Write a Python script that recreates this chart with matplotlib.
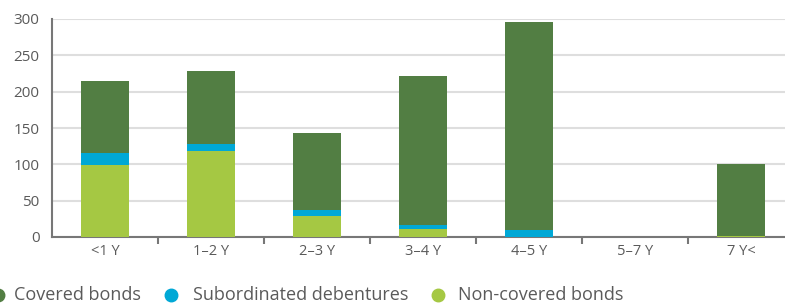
import matplotlib
matplotlib.use("Agg")
import matplotlib.pyplot as plt
from matplotlib.lines import Line2D
import numpy as np

plt.rcParams['font.family'] = ['Open Sans', 'DejaVu Sans']

categories = ['<1 Y', '1\u20132 Y', '2\u20133 Y', '3\u20134 Y', '4\u20135 Y', '5\u20137 Y', '7 Y<']
non_covered = [99, 118, 29, 11, 0, 0, 1]
subordinated = [16, 10, 8, 6, 10, 0, 0]
covered = [100, 100, 106, 204, 286, 0, 99]
legend_labels = ['Covered bonds', 'Subordinated debentures', 'Non-covered bonds']

c_cov = '#527e43'
c_sub = '#00a8d6'
c_non = '#a5c843'
txt = '#5a5a5a'

W, H = 785, 303
fig = plt.figure(figsize=(W/100, H/100), dpi=100)
ax = fig.add_axes([52/W, 66/H, 733/W, 218/H])

x = np.arange(len(categories))
w = 0.46
nc = np.array(non_covered)
sb = np.array(subordinated)
cv = np.array(covered)
ax.bar(x, nc, w, color=c_non, zorder=3)
ax.bar(x, sb, w, bottom=nc, color=c_sub, zorder=3)
ax.bar(x, cv, w, bottom=nc + sb, color=c_cov, zorder=3)

ax.set_xlim(-0.5, -0.5 + 733/106)
ax.set_ylim(0, 300)
ax.set_yticks(range(0, 301, 50))
ax.yaxis.grid(True, color='#dedede', linewidth=1.5, zorder=0)
ax.set_axisbelow(True)

for s in ['top', 'right']:
    ax.spines[s].set_visible(False)
for s in ['left', 'bottom']:
    ax.spines[s].set_color('#777777')
    ax.spines[s].set_linewidth(1.5)

ax.set_xticks(x)
ax.set_xticklabels(categories)
ax.set_xticks(np.arange(0.5, len(categories) - 0.5, 1), minor=True)
ax.tick_params(axis='x', which='major', length=0, pad=5, labelsize=10.5, labelcolor=txt)
ax.tick_params(axis='x', which='minor', length=5, width=1.5, color='#777777', direction='out')
ax.tick_params(axis='y', length=0, pad=9, labelsize=11, labelcolor=txt)

# legend (manual placement)
colors = [c_cov, c_sub, c_non]
marker_x = [-2, 171, 438]
text_x = [14, 193, 458]
ly = 295
for mx, tx, c, lab in zip(marker_x, text_x, colors, legend_labels):
    fig.add_artist(Line2D([mx/W], [1 - ly/H], marker='o', markersize=9, color=c,
                          linestyle='none', transform=fig.transFigure))
    fig.text(tx/W, 1 - ly/H, lab, fontsize=13, color=txt, va='center', ha='left')

fig.savefig('out.png', dpi=100)
